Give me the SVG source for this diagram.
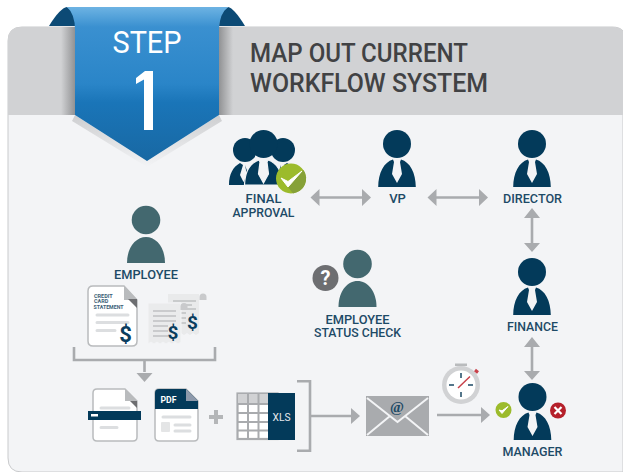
<svg xmlns="http://www.w3.org/2000/svg" width="623" height="472" viewBox="0 0 623 472">
<style>
.lb{font-family:Roboto,"Liberation Sans",sans-serif;font-size:13px;font-weight:500;fill:#1d4a66;text-anchor:middle}
.ti{font-family:Roboto,"Liberation Sans",sans-serif;font-size:26px;font-weight:500;fill:#414244}
.ln{stroke:#a9abae;stroke-width:2.600;fill:none}
.ah{fill:#a9abae}
.dk{fill:#033a5a}
.tl{fill:#43686f}
.paper{fill:#fff;stroke:#b9bbbd;stroke-width:1.500}
.gl{stroke:#dcdee0;stroke-width:3;stroke-linecap:round;fill:none}
.sm{font-family:Roboto,"Liberation Sans",sans-serif;font-weight:700}
</style>
<defs>
<linearGradient id="rib" x1="0" y1="0" x2="0" y2="1"><stop offset="0" stop-color="#6db3e3"/><stop offset=".13" stop-color="#3a90d0"/><stop offset=".5" stop-color="#2a85c8"/><stop offset=".62" stop-color="#1a75b8"/><stop offset="1" stop-color="#1868a3"/></linearGradient>
<linearGradient id="shL" x1="0" y1="0" x2="1" y2="0"><stop offset="0" stop-color="#6f7072" stop-opacity="0"/><stop offset="1" stop-color="#6f7072" stop-opacity=".7"/></linearGradient>
<linearGradient id="shR" x1="0" y1="0" x2="1" y2="0"><stop offset="0" stop-color="#6f7072" stop-opacity=".7"/><stop offset="1" stop-color="#6f7072" stop-opacity="0"/></linearGradient>
<linearGradient id="shB" x1="0" y1="0" x2="0" y2="1"><stop offset="0" stop-color="#8a8b8d" stop-opacity=".6"/><stop offset="1" stop-color="#8a8b8d" stop-opacity="0"/></linearGradient>
<g id="boss">
<circle r="14" class="dk"/>
<path class="dk" d="M-18.800 43C-18.800 29-13 18-4 15.500L-3 18-5 30 0 39 5 30 3 18 4 15.500C13 18 18.800 29 18.800 43Z"/>
</g>
<g id="staff">
<circle r="14.300" class="tl"/>
<path class="tl" d="M-19 43C-19 27-10 17 0 17S19 27 19 43Z"/>
</g>
<g id="ok"><circle r="8" fill="#9cbb2c"/><path d="M-4.500 0L-1.500 3.500 4.500-3.500-1.500 .8Z" fill="#fff" stroke="#fff" stroke-width="1"/></g>
</defs>
<rect width="623" height="472" fill="#fff"/>
<g id="panel">
<path d="M8 458V41Q8 27 22 27H612Q620 27 623 31V472H22Q8 472 8 458Z" fill="#f3f4f6" stroke="#c9cacc" stroke-width="1"/>
<path d="M8 115V41Q8 27 22 27H612Q620 27 623 31V115Z" fill="#d1d2d4"/>
<rect x="61" y="27" width="15" height="88" fill="url(#shL)"/>
<rect x="218" y="27" width="15" height="88" fill="url(#shR)"/>
<path d="M75 115L147 161 219 115 222 121 147 167 72 121Z" fill="url(#shB)" opacity=".6"/>
</g>
<g id="step-ribbon">
<path d="M49 26Q60 8 67 7Q76 12 76 26Z" fill="#0c4a75"/>
<path d="M245 26Q234 8 228 7Q219 12 219 26Z" fill="#0c4a75"/>
<path d="M67 7H228Q219 14 219 30V115L147 161 75 115V30Q75 14 67 7Z" fill="url(#rib)"/>
<text x="147" y="53" text-anchor="middle" font-family="Roboto,'Liberation Sans',sans-serif" font-size="31" fill="#fff" textLength="69" lengthAdjust="spacingAndGlyphs">STEP</text>
<path d="M144 130V79.500L136 84V78L145 71H153V130Z" fill="#fff"/>
</g>
<g id="title">
<text class="ti" x="250" y="62" textLength="218" lengthAdjust="spacingAndGlyphs">MAP OUT CURRENT</text>
<text class="ti" x="250" y="92" textLength="238" lengthAdjust="spacingAndGlyphs">WORKFLOW SYSTEM</text>
</g>
<g id="connectors">
<path class="ln" d="M319 197.500H365"/><path class="ah" d="M310.500 197.500L319.500 189V206ZM371 197.500L362 189V206Z"/>
<path class="ln" d="M436 197.500H482"/><path class="ah" d="M427.500 197.500L436.500 189V206ZM488 197.500L479 189V206Z"/>
<path class="ln" d="M532 216V245"/><path class="ah" d="M532 208L524 218H540ZM532 252L524 243H540Z"/>
<path class="ln" d="M532 345V372"/><path class="ah" d="M532 337L524 347H540ZM532 380L524 371H540Z"/>
<path class="ln" d="M74 347V360H215V347M144.500 360V372"/><path class="ah" d="M144.500 382L136.500 373H152.500Z"/>
<path class="ln" d="M297 381.300H310V450.700H297M310 416H352"/><path class="ah" d="M360 416L351 408V424Z"/>
<path class="ln" d="M437 415H482"/><path class="ah" d="M490 415L481 407V423Z"/>
</g>
<g id="final-approval">
<circle cx="245" cy="150" r="12" class="dk"/>
<circle cx="283" cy="150" r="12" class="dk"/>
<path class="dk" d="M229 185C229 174 233 167 240 163L243 165 240 175 243.500 182 247 175 245 165 252 185ZM298 185C298 174 294 167 287 163L284 165 286 175 283 182 280 175 281 165 274 185Z"/>
<circle cx="263.500" cy="144" r="14" class="dk"/>
<path class="dk" d="M244.500 185C245 171 250 163 259 160L260 162 258.500 174 263.500 183 268.500 174 267 162 268 160C277 163 282 171 282.500 185Z" stroke="#f3f4f6" stroke-width="1.200"/>
<circle cx="291" cy="178.500" r="15" fill="#9cbb2c"/>
<path d="M293 193.400A15 15 0 0 0 303.500 170L288 187Z" fill="#86a138"/>
<path d="M281 178L288 187 302 171 288 181.500Z" fill="#fff" stroke="#fff" stroke-width="1"/>
<text class="lb"><tspan x="263.500" y="203">FINAL</tspan><tspan x="263.500" y="217" textLength="62" lengthAdjust="spacingAndGlyphs">APPROVAL</tspan></text>
</g>
<g id="vp"><use href="#boss" x="397" y="144"/><text class="lb" x="397.500" y="203">VP</text></g>
<g id="director"><use href="#boss" x="532" y="144"/><text class="lb" x="532.500" y="203" textLength="59" lengthAdjust="spacingAndGlyphs">DIRECTOR</text></g>
<g id="finance"><use href="#boss" x="532" y="272"/><text class="lb" x="532.500" y="331" textLength="51" lengthAdjust="spacingAndGlyphs">FINANCE</text></g>
<g id="manager"><use href="#boss" x="532.500" y="397"/><text class="lb" x="532.500" y="456" textLength="60" lengthAdjust="spacingAndGlyphs">MANAGER</text>
<use href="#ok" x="503.500" y="410"/>
<circle cx="558" cy="410.500" r="8" fill="#b5202b"/>
<path d="M554.500 407L561.500 414M561.500 407L554.500 414" stroke="#fff" stroke-width="2.200"/>
</g>
<g id="employee"><use href="#staff" x="146" y="220"/><text class="lb" x="146" y="279" textLength="64" lengthAdjust="spacingAndGlyphs">EMPLOYEE</text></g>
<g id="status-check"><use href="#staff" x="357.500" y="264"/>
<circle cx="325.500" cy="278" r="13" fill="#6d6e71"/>
<text x="325.500" y="285" text-anchor="middle" class="sm" font-size="20" fill="#fff">?</text>
<text class="lb" style="font-size:12.500px"><tspan x="357.500" y="323.500" textLength="64" lengthAdjust="spacingAndGlyphs">EMPLOYEE</tspan><tspan x="357.500" y="337" textLength="87" lengthAdjust="spacingAndGlyphs">STATUS CHECK</tspan></text></g>
<g id="statement">
<path class="paper" d="M93 286H124L137 300V341Q137 346 132 346H93Q88 346 88 341V291Q88 286 93 286Z"/>
<path d="M124 286L137 300H124Z" fill="#b9bbbd"/><path d="M128 299H137V308Z" fill="#6d6e71"/>
<text class="sm" font-size="5.500" fill="#3c5f78"><tspan x="94" y="297.500">CREDIT</tspan><tspan x="94" y="303">CARD</tspan><tspan x="93.500" y="309" textLength="30" lengthAdjust="spacingAndGlyphs">STATEMENT</tspan></text>
<path class="gl" d="M97 315H128M97 322.500H128M97 330.500H115"/>
<text x="125.500" y="342" text-anchor="middle" class="sm" font-size="22" fill="#0a3d5e">$</text>
</g>
<g id="receipts">
<path d="M168 294H199V333L196 335 193 333 190 335 187 333 184 335 181 333 178 335 175 333 172 335 168 333Z" fill="#e9eaeb"/>
<path d="M173 301H196M173 305H192M173 309H196M181 313H186M181 318H186M181 323H186" stroke="#a9abae" stroke-width="1.200"/>
<path d="M199.500 300V297A3.500 3.500 0 0 1 206.500 297V300Z" fill="#c9cacc"/>
<text x="192.500" y="329" text-anchor="middle" class="sm" font-size="19" fill="#0a3d5e">$</text>
<path d="M148 303H181V342L178 344 175 342 172 344 169 342 166 344 163 342 160 344 157 342 154 344 151 342 148 344Z" fill="#eaebec" stroke="#f3f4f6" stroke-width="1"/>
<path d="M153 311H176M153 316H176M153 321H176M153 326H168M153 331H168M153 336H168" stroke="#a9abae" stroke-width="1.200"/>
<path d="M180.500 310V306.500A3.500 3.500 0 0 1 187.500 306.500V310Z" fill="#c9cacc"/>
<text x="173" y="339" text-anchor="middle" class="sm" font-size="19" fill="#0a3d5e">$</text>
</g>
<g id="doc">
<path class="paper" d="M97 389H125L137 401V437Q137 441 133 441H97Q93 441 93 437V393Q93 389 97 389Z"/>
<path d="M125 389L137 401H125Z" fill="#b9bbbd"/><path d="M130 401H137V408Z" fill="#6d6e71"/>
<path class="gl" d="M101 408H129M101 427.500H117" stroke-width="2.500"/>
<rect x="88" y="411" width="53" height="9" class="dk"/>
<rect x="91" y="414" width="7" height="2.500" fill="#fff"/>
</g>
<g id="pdf">
<path class="paper" d="M159 389H186L198 401V437Q198 441 194 441H159Q155 441 155 437V393Q155 389 159 389Z"/>
<path d="M159 389H186L198 401V409H155V393Q155 389 159 389Z" class="dk"/>
<path d="M186 389L198 401H186Z" fill="#8d99ab"/>
<text x="160.500" y="403" class="sm" font-size="9.500" fill="#fff" textLength="16" lengthAdjust="spacingAndGlyphs">PDF</text>
<path class="gl" d="M163 417H190M175 425H190M175 431H190" stroke-width="2.500"/>
<rect x="161" y="422" width="9" height="10" rx="1" fill="#e4e5e6"/>
</g>
<g id="plus"><path d="M216 410V424M209 417H223" stroke="#b4b6b8" stroke-width="4" fill="none"/></g>
<g id="xls">
<rect x="237.500" y="393.500" width="40" height="45.500" fill="#fff" stroke="#a9abae" stroke-width="2.200"/>
<rect x="238" y="394" width="32" height="10" fill="#d1d2d4"/>
<path d="M237 404H272M237 413H272M237 422H272M237 430.500H272M248 393V439M258.500 393V439" stroke="#a9abae" stroke-width="2"/>
<rect x="268" y="393" width="27" height="47" class="dk"/>
<text x="281.500" y="420.500" text-anchor="middle" font-family="Roboto,'Liberation Sans',sans-serif" font-size="10" fill="#e6e9ec" textLength="18" lengthAdjust="spacingAndGlyphs">XLS</text>
</g>
<g id="email">
<rect x="366" y="396" width="63" height="40" fill="#a9abae"/>
<path d="M367 398L397.500 422 428 398M367 435L390 416M428 435L405 416" stroke="#f3f4f6" stroke-width="2" fill="none"/>
<text x="397" y="412" text-anchor="middle" font-family="'Liberation Serif',serif" font-weight="700" font-size="15" fill="#1d4a66">@</text>
</g>
<g id="stopwatch">
<rect x="455" y="363.500" width="12" height="2.500" fill="#b9bbbd"/>
<circle cx="461" cy="385" r="19" fill="#d1d2d4"/>
<circle cx="461" cy="385" r="14.500" fill="#fff"/>
<path d="M461 373V378M461 392V397M449 385H454M468 385H473" stroke="#1d4a66" stroke-width="1.500"/>
<path d="M458 388L470 376.500" stroke="#c8414a" stroke-width="1.500"/>
<path d="M475 370L478 372.500" stroke="#c8414a" stroke-width="3"/>
</g>
</svg>
